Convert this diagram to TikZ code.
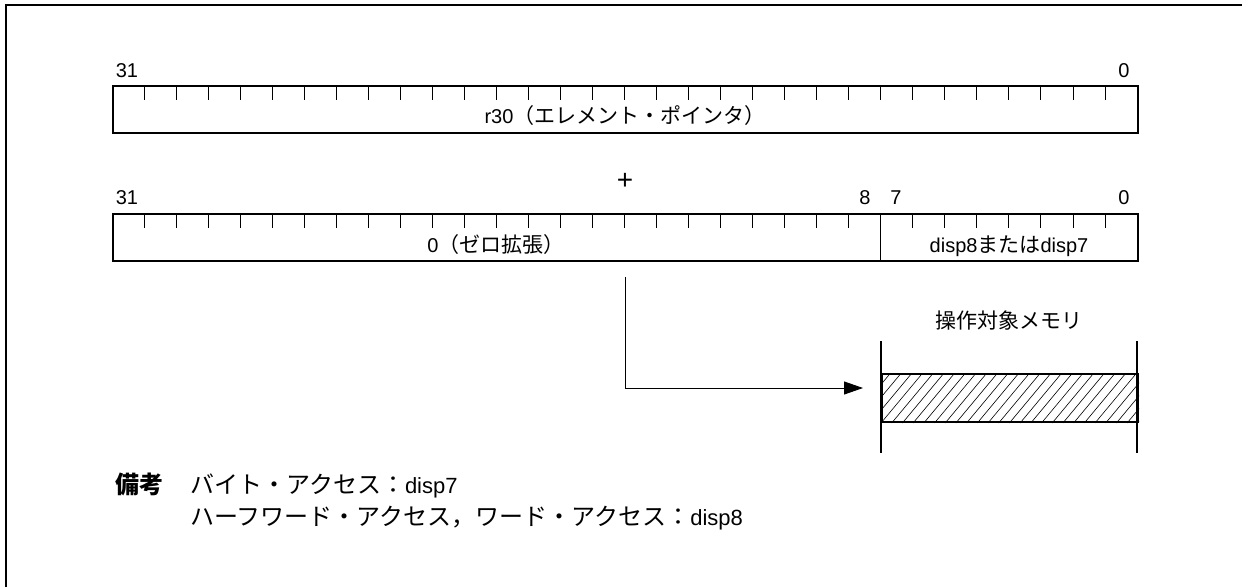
\documentclass[tikz,border=0pt]{standalone}
\usepackage{fontspec}
\setmainfont{Liberation Sans}
\newfontfamily\jp{Noto Sans CJK JP}
\usetikzlibrary{arrows.meta,calc}
\newcommand{\J}[1]{{\jp\fontsize{21}{24}\selectfont #1}}
\newcommand{\JR}[1]{{\jp\fontsize{24}{28}\selectfont #1}}
\begin{document}
\begin{tikzpicture}[x=1pt,y=-1pt,
  lbl/.style={font=\fontsize{20}{22}\selectfont, inner sep=0pt, anchor=base},
  rmk/.style={font=\fontsize{22}{26}\selectfont, inner sep=0pt, anchor=base west},
  regbox/.style={draw, line width=2pt, inner sep=0pt, anchor=north west, minimum width=1025pt, minimum height=47pt},
  membox/.style={draw, line width=2pt, inner sep=0pt, anchor=north west, minimum width=256pt, minimum height=48pt},
  tick/.style={line width=0.8pt},
  conn/.style={line width=0.9pt},
  memline/.style={line width=2pt}]
\useasboundingbox (0,0) rectangle (1242,587);
% frame
\draw[line width=2pt] (6,587) -- (6,5) -- (1242,5);
% register 1
\node[regbox] (r1) at (112,85) {};
\foreach \i in {1,...,31}{
  \draw[tick] ($(r1.north west)+(\i*32.03,0)$) -- ++(0,15);
}
\node[lbl] (r1a) at (127,77) {31};
\node[lbl] (r1b) at (1124,77) {0};
\node[lbl] (r1t) at (625,123) {r30\J{（エレメント・ポインタ）}};
% plus
\node[font=\fontsize{28}{30}\selectfont, inner sep=0pt] (plus) at (625,181) {+};
% register 2
\node[regbox] (r2) at (112,213) {};
\foreach \i in {1,...,31}{
  \draw[tick] ($(r2.north west)+(\i*32.03,0)$) -- ++(0,15);
}
\draw[tick] ($(r2.north west)+(24*32.03,0)$) -- ($(r2.south west)+(24*32.03,0)$);
\node[lbl] (r2a) at (127,204) {31};
\node[lbl] (r2b) at (865,204) {8};
\node[lbl] (r2c) at (896,204) {7};
\node[lbl] (r2d) at (1124,204) {0};
\node[lbl] (r2t) at (496,252) {0\J{（ゼロ拡張）}};
\node[lbl] (r2u) at (1009,252) {disp8\J{または}disp7};
% memory
\node[lbl] (memlbl) at (1009,328) {\J{操作対象メモリ}};
\node[membox] (mem) at (881,373) {};
\begin{scope}
  \clip (mem.north west) rectangle (mem.south east);
  \foreach \k in {-5,...,26}{
    \draw[line width=0.6pt] ($(mem.south west)+(\k*10.7,0)$) -- ++(40,-48);
  }
\end{scope}
\node[membox] at (881,373) {};
\draw[memline] (881,341) -- (881,453);
\draw[memline] (1137,341) -- (1137,453);
% arrow
\coordinate (src) at (625,277);
\coordinate (dst) at (863,388);
\draw[conn, -{Triangle[length=19pt,width=13pt]}] (src) |- (dst);
% remarks
\node[rmk] (bk) at (115,493) {\JR{\bfseries 備考}};
\node[rmk] (rm1) at (190,493) {\JR{バイト・アクセス：}disp7};
\node[rmk] (rm2) at (190,525) {\JR{ハーフワード・アクセス，ワード・アクセス：}disp8};
\end{tikzpicture}
\end{document}
